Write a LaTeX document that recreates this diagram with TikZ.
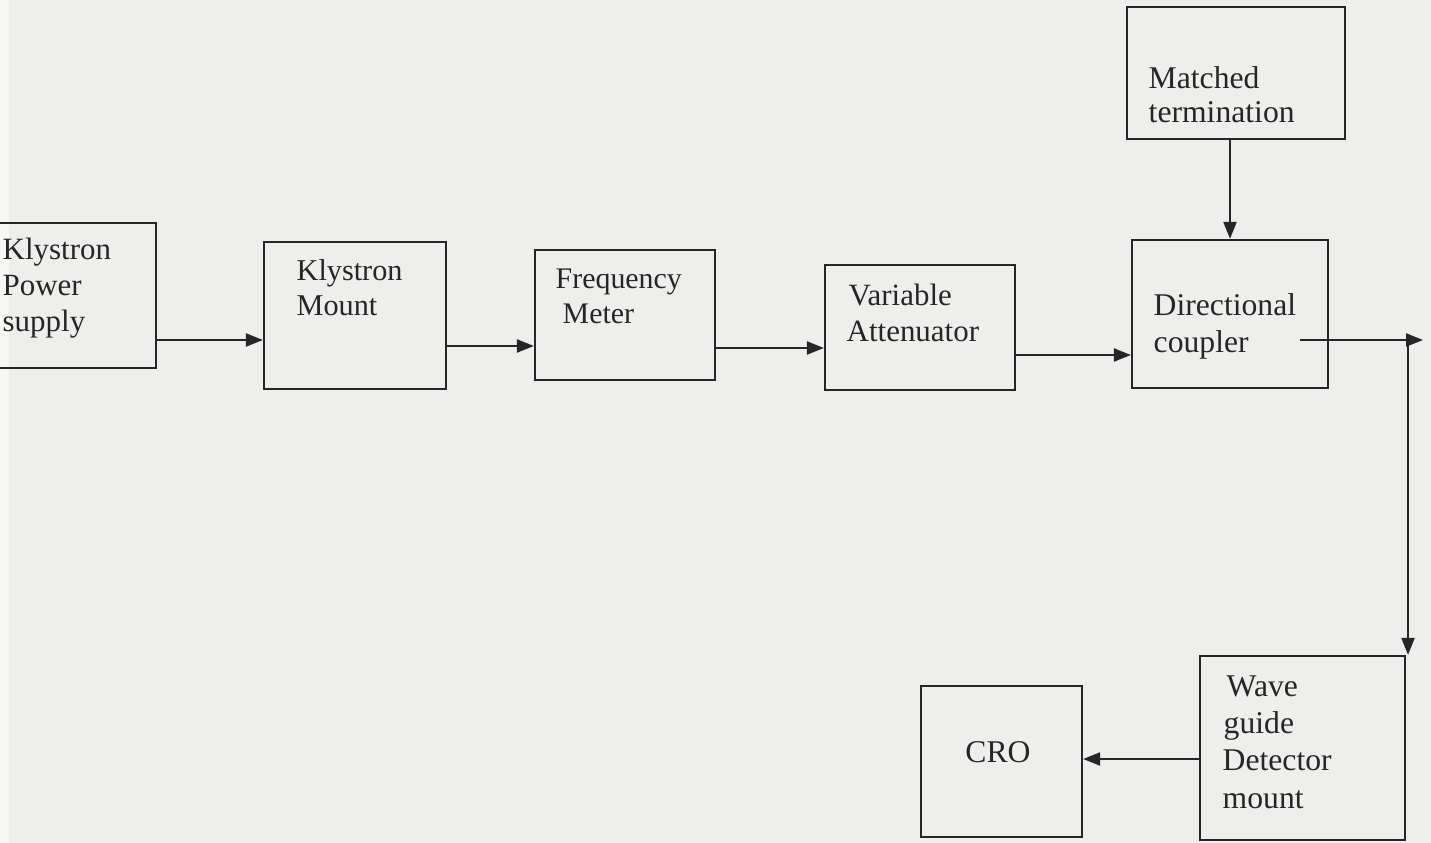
\documentclass[tikz,border=0pt]{standalone}
\usepackage{fontspec}
\setmainfont{Liberation Serif}
\usetikzlibrary{arrows.meta}
\definecolor{paper}{RGB}{238,238,236}
\definecolor{paperedge}{RGB}{247,247,246}
\definecolor{ink}{RGB}{38,38,38}
\tikzset{
  box/.style={draw=ink, line width=0.6pt, inner sep=0pt, fill=none},
  lbl/.style={text=ink, inner sep=0pt, align=left, anchor=west,
              font=\fontsize{8.8}{10.2}\selectfont},
  arr/.style={draw=ink, line width=0.6pt,
              -{Triangle[length=0.17cm,width=0.13cm]}},
  wire/.style={draw=ink, line width=0.6pt}
}
\begin{document}
\begin{tikzpicture}[x=0.01cm,y=-0.01cm]
\useasboundingbox (0,0) rectangle (1431,843);
\clip (0,0) rectangle (1431,843);
\fill[paper] (0,0) rectangle (1431,843);
\fill[paperedge] (0,0) rectangle (9,843);

% blocks
\node[box, minimum width=1.76cm, minimum height=1.45cm] (ps)  at (68,295.5)   {};
\node[box, minimum width=1.82cm, minimum height=1.47cm] (km)  at (355,315.5)  {};
\node[box, minimum width=1.80cm, minimum height=1.30cm] (fm)  at (625,315)    {};
\node[box, minimum width=1.90cm, minimum height=1.25cm] (va)  at (920,327.5)  {};
\node[box, minimum width=1.96cm, minimum height=1.48cm] (dc)  at (1230,314)   {};
\node[box, minimum width=2.18cm, minimum height=1.32cm] (mt)  at (1236,73)    {};
\node[box, minimum width=1.61cm, minimum height=1.51cm] (cro) at (1001.5,761.5) {};
\node[box, minimum width=2.05cm, minimum height=1.84cm] (wg)  at (1302.5,748) {};

% block labels
\node[lbl, font=\fontsize{8.8}{10.3}\selectfont] (psT) at (2,288) {Klystron\\Power\\supply};
\node[lbl, font=\fontsize{8.6}{10}\selectfont] (kmT) at (296,287.5) {Klystron\\Mount};
\node[lbl, font=\fontsize{8.5}{10}\selectfont] (fmT) at (555,296) {Frequency\\\hspace{0.07cm}Meter};
\node[lbl] (vaT)  at (846,313) {\hspace{0.02cm}Variable\\Attenuator};
\node[lbl, font=\fontsize{9}{10.5}\selectfont] (dcT) at (1153,326) {Directional\\coupler};
\node[lbl, font=\fontsize{9}{9.7}\selectfont] (mtT) at (1148,95) {Matched\\termination};
\node[lbl, anchor=center, font=\fontsize{9}{10.5}\selectfont] (croT) at (998,752) {CRO};
\node[lbl, font=\fontsize{9}{10.6}\selectfont] (wgT) at (1222,742) {\hspace{0.04cm}Wave\\\hspace{0.01cm}guide\\Detector\\mount};

% signal path
\coordinate (dcout) at (1300,340);
\coordinate (tip)   at (1423,340);
\coordinate (drop)  at (1408,340);

\draw[arr] (ps.east |- 0,340) -- (km.west |- 0,340);
\draw[arr] (km.east |- 0,346) -- (fm.west |- 0,346);
\draw[arr] (fm.east |- 0,348) -- (va.west |- 0,348);
\draw[arr] (va.east |- 0,355) -- (dc.west |- 0,355);
\draw[arr] (mt.south -| 1230,0) -- (dc.north -| 1230,0);
\draw[arr] (dcout) -- (tip);
\draw[arr] (drop) -- (wg.north east -| drop);
\draw[arr] (wg.west |- 0,759) -- (cro.east |- 0,759);
\end{tikzpicture}
\end{document}
